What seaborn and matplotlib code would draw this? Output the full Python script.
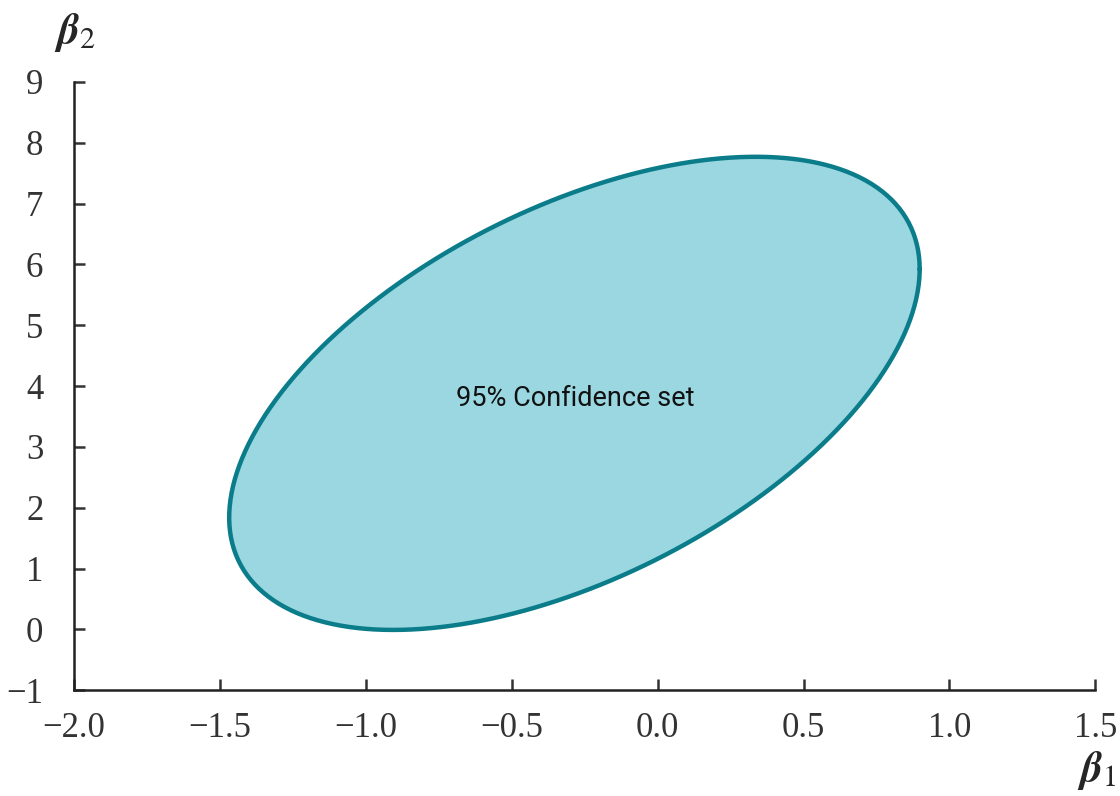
import numpy as np
import pandas as pd
import matplotlib
matplotlib.use("Agg")
import matplotlib.pyplot as plt
import seaborn as sns

# confidence ellipse: centre, half extents, correlation
centre_b1 = -0.285
centre_b2 = 3.88
half_b1 = 1.183
half_b2 = 3.89
rho = 0.525

x_ticks = [-2.0, -1.5, -1.0, -0.5, 0.0, 0.5, 1.0, 1.5]
x_labels = ["\u22122.0", "\u22121.5", "\u22121.0", "\u22120.5", "0.0", "0.5", "1.0", "1.5"]
y_ticks = [-1, 0, 1, 2, 3, 4, 5, 6, 7, 8, 9]
y_labels = ["\u22121", "0", "1", "2", "3", "4", "5", "6", "7", "8", "9"]

t = np.linspace(0, 2 * np.pi, 400)
ell = pd.DataFrame({
    "b1": centre_b1 + half_b1 * np.cos(t),
    "b2": centre_b2 + half_b2 * (rho * np.cos(t) + np.sqrt(1 - rho**2) * np.sin(t)),
})

sns.set_style("ticks")
plt.rcParams["font.family"] = ["Liberation Serif", "DejaVu Serif"]
plt.rcParams["mathtext.fontset"] = "stix"

fig = plt.figure(figsize=(11.2, 7.96), dpi=100)
ax = fig.add_axes([0.066, 0.133, 0.912, 0.764])

edge = "#0b7c8a"
fill = "#9ad7e1"
ax.fill(ell.b1, ell.b2, color=fill, zorder=1)
sns.lineplot(data=ell, x="b1", y="b2", sort=False, estimator=None, color=edge,
             lw=3.2, ax=ax, zorder=2)

ax.text(-0.283, 3.8, "95% Confidence set", ha="center", va="center",
        fontsize=19.5, family=["Roboto", "DejaVu Sans"], color="#111111")

ax.set_xlim(-2.0, 1.5)
ax.set_ylim(-1, 9)
ax.set_xticks(x_ticks)
ax.set_xticklabels(x_labels)
ax.set_yticks(y_ticks)
ax.set_yticklabels(y_labels)
ax.tick_params(direction="in", length=8, width=1.8, labelsize=25, colors="#333333")
ax.tick_params(axis="x", pad=16)
ax.tick_params(axis="y", pad=22)
for s in ["top", "right"]:
    ax.spines[s].set_visible(False)
for s in ["left", "bottom"]:
    ax.spines[s].set_linewidth(1.8)
    ax.spines[s].set_color("#222222")
ax.set_xlabel("")
ax.set_ylabel("")

fig.text(1097 / 1120, 1 - 770 / 796, r"$\boldsymbol{\beta}_1$", fontsize=31,
         ha="center", va="center")
fig.text(75 / 1120, 1 - 32 / 796, r"$\boldsymbol{\beta}_2$", fontsize=31,
         ha="center", va="center")

fig.savefig("out.png", dpi=100)
